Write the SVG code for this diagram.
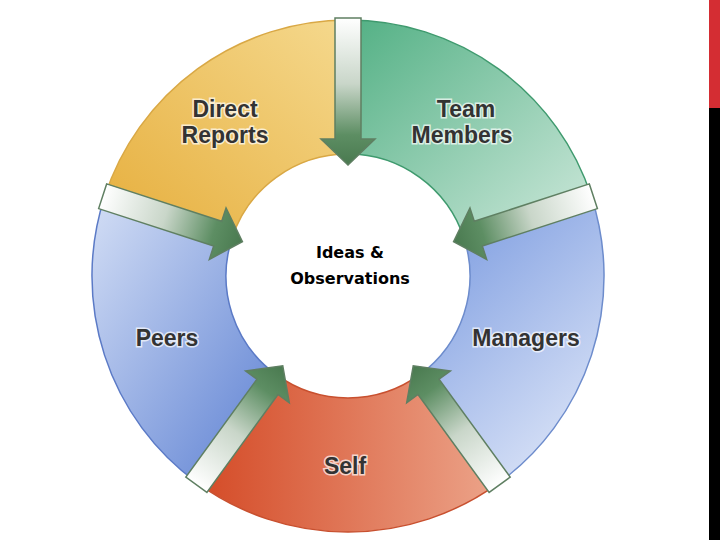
<svg xmlns="http://www.w3.org/2000/svg" width="720" height="540" viewBox="0 0 720 540">
<style>
.seg{stroke-width:1.5}
.lbl{font-family:"Liberation Sans",Arial,sans-serif;font-weight:bold;font-size:23px;fill:#333;text-anchor:middle;stroke:#fff;stroke-width:3;stroke-opacity:0.7;paint-order:stroke}
.ctr{font-family:"DejaVu Sans","Liberation Sans",sans-serif;font-weight:bold;font-size:16px;fill:#000;text-anchor:middle}
.arr{fill:url(#ga);stroke:#5f7f62;stroke-width:1.5}
</style>
<defs>
<linearGradient id="gg" x1="0" y1="0" x2="1" y2="1"><stop offset="0" stop-color="#52b084"/><stop offset="1" stop-color="#cfe9dc"/></linearGradient>
<linearGradient id="gm" x1="0" y1="0" x2="0.6" y2="1"><stop offset="0" stop-color="#7395de"/><stop offset="1" stop-color="#d6e0f6"/></linearGradient>
<linearGradient id="gs" x1="0" y1="0" x2="1" y2="0"><stop offset="0" stop-color="#d44a26"/><stop offset="1" stop-color="#eca48a"/></linearGradient>
<linearGradient id="gp" x1="1" y1="1" x2="0" y2="0"><stop offset="0" stop-color="#5b7fd2"/><stop offset="1" stop-color="#d3def5"/></linearGradient>
<linearGradient id="gd" x1="1" y1="0" x2="0" y2="1"><stop offset="0" stop-color="#f5d98e"/><stop offset="1" stop-color="#e6ae3c"/></linearGradient>
<linearGradient id="ga" gradientUnits="userSpaceOnUse" x1="0" y1="-258" x2="0" y2="-112"><stop offset="0" stop-color="#ffffff"/><stop offset="0.45" stop-color="#c9d6c9"/><stop offset="0.8" stop-color="#5d8e63"/><stop offset="1" stop-color="#4a7a50"/></linearGradient>
</defs>
<rect width="720" height="540" fill="#fff"/>
<rect x="709" y="0" width="11" height="108" fill="#d42d33"/>
<rect x="709" y="108" width="11" height="432" fill="#000"/>
<g id="team-members"><path class="seg" fill="url(#gg)" stroke="#3f9a6e" d="M348,20 A256,256 0 0 1 591.5,196.9 L464,238.3 A122,122 0 0 0 348,154 Z"/><text class="lbl" x="466" y="117">Team</text><text class="lbl" x="462" y="143">Members</text></g>
<g id="managers"><path class="seg" fill="url(#gm)" stroke="#6d8ccc" d="M591.5,196.9 A256,256 0 0 1 498.5,483.1 L419.7,374.7 A122,122 0 0 0 464,238.3 Z"/><text class="lbl" x="526" y="346">Managers</text></g>
<g id="self"><path class="seg" fill="url(#gs)" stroke="#c8502f" d="M498.5,483.1 A256,256 0 0 1 197.5,483.1 L276.3,374.7 A122,122 0 0 0 419.7,374.7 Z"/><text class="lbl" x="345" y="474">Self</text></g>
<g id="peers"><path class="seg" fill="url(#gp)" stroke="#5b7ac6" d="M197.5,483.1 A256,256 0 0 1 104.5,196.9 L232,238.3 A122,122 0 0 0 276.3,374.7 Z"/><text class="lbl" x="167" y="346">Peers</text></g>
<g id="direct-reports"><path class="seg" fill="url(#gd)" stroke="#d9a845" d="M104.5,196.9 A256,256 0 0 1 348,20 L348,154 A122,122 0 0 0 232,238.3 Z"/><text class="lbl" x="225" y="117">Direct</text><text class="lbl" x="225" y="143">Reports</text></g>
<g id="center"><text class="ctr" x="350" y="258">Ideas &amp;</text><text class="ctr" x="350" y="284">Observations</text></g>
<g id="connectors">
<path class="arr" transform="translate(348,276) rotate(0)" d="M-13,-258 H13 V-137 H27 L0,-111 L-27,-137 H-13 Z"/>
<path class="arr" transform="translate(348,276) rotate(72)" d="M-13,-258 H13 V-137 H27 L0,-111 L-27,-137 H-13 Z"/>
<path class="arr" transform="translate(348,276) rotate(144)" d="M-13,-258 H13 V-137 H27 L0,-111 L-27,-137 H-13 Z"/>
<path class="arr" transform="translate(348,276) rotate(216)" d="M-13,-258 H13 V-137 H27 L0,-111 L-27,-137 H-13 Z"/>
<path class="arr" transform="translate(348,276) rotate(288)" d="M-13,-258 H13 V-137 H27 L0,-111 L-27,-137 H-13 Z"/>
</g>
</svg>
